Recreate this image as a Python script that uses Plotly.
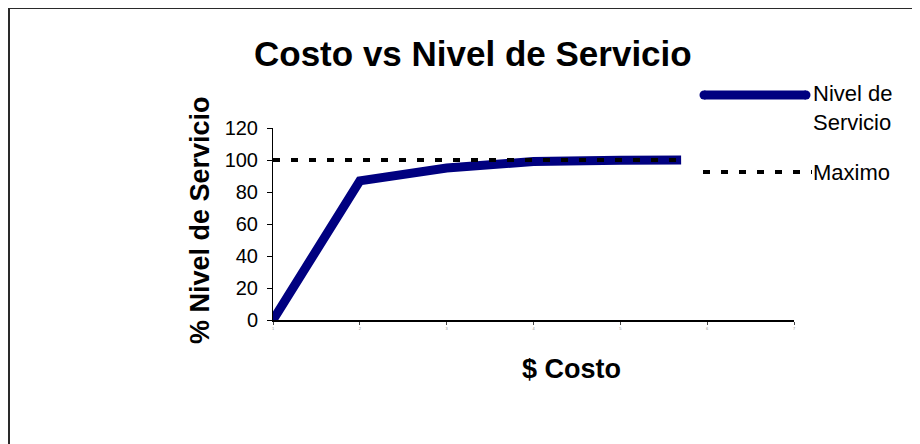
import plotly.graph_objects as go

# Data
costo = [1, 2, 3, 4, 5, 5.7]
nivel_servicio = [0, 87, 95, 99, 99.8, 100]
maximo = [100, 100, 100, 100, 100, 100]
x_tick_vals = [1, 2, 3, 4, 5, 6, 7]
x_tick_text = ["1", "2", "3", "4", "5", "6", "7"]
y_tick_vals = [0, 20, 40, 60, 80, 100, 120]

W, H = 920, 444
OFF = 8  # page body offset
# target screen positions of plot area
SL, SR, ST, SB = 273, 794, 128, 320
L, T = SL - OFF, ST - OFF
R = W - (SR - OFF)
B = H - (SB - OFF)
PW = SR - SL
PH = SB - ST

def px(x):
    return (x - SL) / PW

def py(y):
    return (SB - y) / PH

FONT = "Arial, Liberation Sans, sans-serif"
NAVY = "#000080"

fig = go.Figure()
fig.add_trace(go.Scatter(x=costo, y=nivel_servicio, mode="lines", name="Nivel de Servicio",
                         line=dict(color=NAVY, width=9), showlegend=False))
fig.add_trace(go.Scatter(x=costo, y=maximo, mode="lines", name="Maximo",
                         line=dict(color="black", width=4, dash="7px,11px"), showlegend=False))

shapes = [
    # outer frame (partially cut by canvas)
    dict(type="rect", xref="paper", yref="paper", x0=px(9), x1=px(960), y0=py(480), y1=py(8),
         line=dict(color="#2a2a2a", width=2), fillcolor="rgba(0,0,0,0)", layer="below"),
    # legend symbol: Nivel de Servicio
    dict(type="line", xref="paper", yref="paper", x0=px(704), x1=px(806), y0=py(95), y1=py(95),
         line=dict(color=NAVY, width=9)),
    dict(type="circle", xref="paper", yref="paper", x0=px(699.5), x1=px(708.5), y0=py(99.5), y1=py(90.5),
         line=dict(width=0), fillcolor=NAVY),
    dict(type="circle", xref="paper", yref="paper", x0=px(801.5), x1=px(810.5), y0=py(99.5), y1=py(90.5),
         line=dict(width=0), fillcolor=NAVY),
    # legend symbol: Maximo
    dict(type="line", xref="paper", yref="paper", x0=px(703), x1=px(812), y0=py(172), y1=py(172),
         line=dict(color="black", width=4, dash="7px,11px")),
]

annotations = [
    dict(text="Costo vs Nivel de Servicio", xref="paper", yref="paper", x=px(473), y=py(53),
         xanchor="center", yanchor="middle", showarrow=False,
         font=dict(family=FONT, size=35, color="black", weight="bold")),
    dict(text="% Nivel de Servicio", xref="paper", yref="paper", x=px(200), y=py(220),
         xanchor="center", yanchor="middle", textangle=-90, showarrow=False,
         font=dict(family=FONT, size=27, color="black", weight="bold")),
    dict(text="$ Costo", xref="paper", yref="paper", x=px(571), y=py(369),
         xanchor="center", yanchor="middle", showarrow=False,
         font=dict(family=FONT, size=27, color="black", weight="bold")),
    dict(text="Nivel de<br>Servicio", xref="paper", yref="paper", x=px(811), y=py(108),
         xanchor="left", yanchor="middle", align="left", showarrow=False,
         font=dict(family=FONT, size=22, color="black")),
    dict(text="Maximo", xref="paper", yref="paper", x=px(811), y=py(172),
         xanchor="left", yanchor="middle", align="left", showarrow=False,
         font=dict(family=FONT, size=22, color="black")),
]

fig.update_layout(
    width=W, height=H,
    margin=dict(l=L, r=R, t=T, b=B, pad=0),
    paper_bgcolor="white", plot_bgcolor="white",
    showlegend=False,
    shapes=shapes, annotations=annotations,
    font=dict(family=FONT, color="black"),
    xaxis=dict(range=[1, 7], tickvals=x_tick_vals, ticktext=x_tick_text,
               showgrid=False, zeroline=False, showline=True, linecolor="black", linewidth=1.5,
               ticks="outside", ticklen=3, tickcolor="#444", tickwidth=1,
               tickfont=dict(size=4, color="#999", family=FONT), fixedrange=True),
    yaxis=dict(range=[0, 120], tickvals=y_tick_vals,
               showgrid=False, zeroline=False, showline=True, linecolor="black", linewidth=1,
               ticks="outside", ticklen=5, tickcolor="black", tickwidth=1, ticklabelstandoff=5,
               tickfont=dict(size=20, color="black", family=FONT), fixedrange=True),
)

fig.write_html("out.html")
